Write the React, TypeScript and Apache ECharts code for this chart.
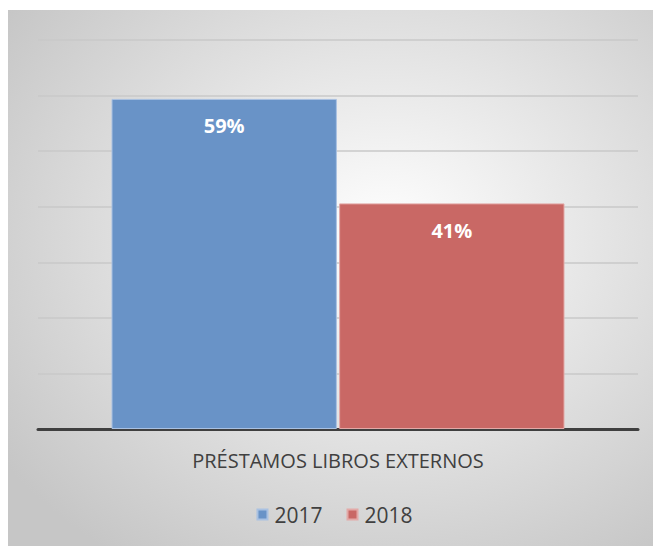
import React, { useEffect, useRef } from "react";
import * as echarts from "echarts";

const categories = ["PRÉSTAMOS LIBROS EXTERNOS"];
const seriesNames = ["2017", "2018"];
const values2017 = [0.594];
const values2018 = [0.406];
const colors = ["#6993c7", "#c96865"];
const borders = ["#a9c1e2", "#e3a9a7"];

export default function App() {
  const ref = useRef<HTMLDivElement>(null);
  useEffect(() => {
    if (!ref.current) return;
    const chart = echarts.init(ref.current, null, { renderer: "svg" });
    const data = [values2017, values2018];
    chart.setOption({
      animation: false,
      graphic: [
        {
          type: "rect",
          z: -10,
          silent: true,
          shape: { x: 0, y: 2, width: 651, height: 540 },
          style: {
            fill: new echarts.graphic.RadialGradient(0.58, 0.42, 0.72, [
              { offset: 0, color: "#ffffff" },
              { offset: 1, color: "#c6c6c6" },
            ]),
          },
        },
      ],
      grid: { left: 30, right: 23, top: 32, bottom: 117 },
      legend: {
        bottom: 16,
        left: "center",
        itemWidth: 10,
        itemHeight: 10,
        itemGap: 24,
        icon: "rect",
        textStyle: { fontSize: 21, color: "#404040", fontFamily: "'Open Sans', sans-serif", padding: [0, 0, 0, 2] },
        data: seriesNames,
      },
      xAxis: {
        type: "category",
        data: categories,
        axisLine: { lineStyle: { color: "#3f3f3f", width: 3 } },
        axisTick: { show: false },
        axisLabel: { fontSize: 20, color: "#404040", margin: 21, fontFamily: "'Open Sans', sans-serif" },
      },
      yAxis: {
        type: "value",
        min: 0,
        max: 0.7,
        interval: 0.1,
        axisLabel: { show: false },
        axisLine: { show: false },
        axisTick: { show: false },
        splitLine: { lineStyle: { color: "#c9c9c9", width: 1.5 } },
      },
      series: seriesNames.map((name, i) => ({
        name,
        type: "bar",
        data: data[i],
        barCategoryGap: "24.5%",
        barGap: "1%",
        itemStyle: { color: colors[i], borderColor: borders[i], borderWidth: 1 },
        label: {
          show: true,
          position: "insideTop",
          distance: 17,
          color: "#ffffff",
          fontSize: 20,
          fontWeight: "bold",
          fontFamily: "'Open Sans', sans-serif",
          formatter: (p: any) => Math.round(p.value * 100) + "%",
        },
      })),
    });
    return () => chart.dispose();
  }, []);
  return <div ref={ref} style={{ width: 653, height: 538 }} />;
}
